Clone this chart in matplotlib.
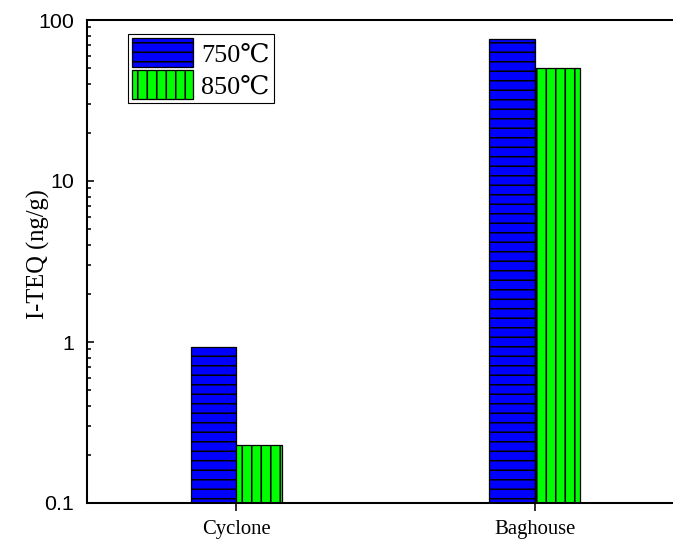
import numpy as np
import matplotlib
matplotlib.use("Agg")
import matplotlib.pyplot as plt

# data
categories = ["Cyclone", "Baghouse"]
series_labels = ["750\u2103", "850\u2103"]
teq_750 = [0.93, 76]
teq_850 = [0.23, 50]

DPI = 114
W, H = 673, 545
plt.rcParams["hatch.linewidth"] = 1.0

fig = plt.figure(figsize=(W / DPI, H / DPI), dpi=DPI)
# axes runs past the right edge of the picture, like the reference
ax_left, ax_right, ax_top, ax_bottom = 87, 684, 20, 503
ax = fig.add_axes([ax_left / W, 1 - ax_bottom / H,
                   (ax_right - ax_left) / W, (ax_bottom - ax_top) / H])

x = np.arange(len(categories))
width = 0.152
ax.bar(x - width / 2, teq_750, width, color="#0000ff", edgecolor="black",
       linewidth=0.8, hatch="--", label=series_labels[0])
ax.bar(x + width / 2, teq_850, width, color="#00ff00", edgecolor="black",
       linewidth=0.8, hatch="||", label=series_labels[1])

ax.set_yscale("log")
ax.set_ylim(0.1, 100)
ax.set_xlim(-0.5, 1.5)
ax.set_yticks([0.1, 1, 10, 100])
ax.set_yticklabels(["0.1", "1", "10", "100"], family="Liberation Sans", fontsize=13.5)
ax.set_xticks(x)
ax.set_xticklabels(categories, family="Liberation Serif", fontsize=13)
ax.tick_params(axis="y", which="major", direction="in", length=4.5, width=1.0, pad=8)
ax.tick_params(axis="y", which="minor", direction="in", length=2.5, width=1.0)
ax.tick_params(axis="x", which="both", direction="out", length=5, width=1.0, pad=6)
ax.minorticks_on()
ax.tick_params(axis="x", which="minor", bottom=False)

ax.set_ylabel("I-TEQ (ng/g)", family="Liberation Serif", fontsize=15.5)
ax.yaxis.set_label_coords((50 - ax_left) / (ax_right - ax_left), 0.515)

for s in ax.spines.values():
    s.set_linewidth(1.3)

leg = ax.legend(loc="upper left",
                bbox_to_anchor=(41 / (ax_right - ax_left), 1 - 14 / (ax_bottom - ax_top)),
                borderaxespad=0, fancybox=False, edgecolor="black", framealpha=1,
                prop={"family": ["Liberation Serif", "DejaVu Serif"], "size": 16.5},
                handlelength=2.35, handleheight=1.35, labelspacing=0.1,
                borderpad=0.15, handletextpad=0.3)
leg.get_frame().set_linewidth(0.7)

fig.savefig("out.png", dpi=DPI)
